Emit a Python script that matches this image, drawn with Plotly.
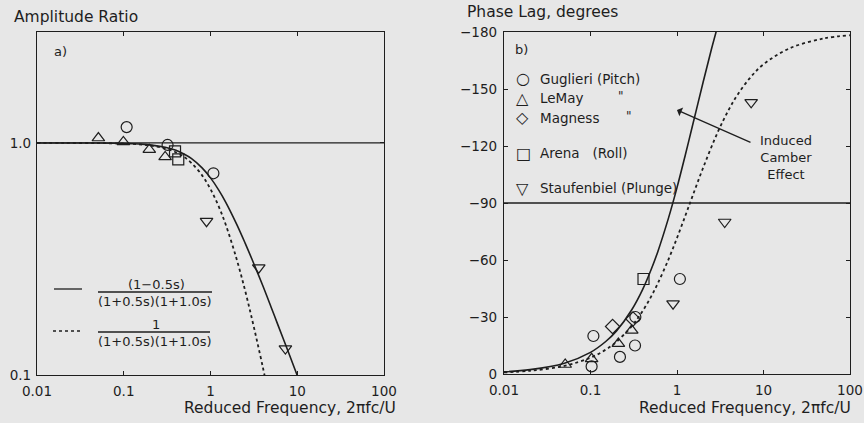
import plotly.graph_objects as go

W, H = 864, 423
FONT = "DejaVu Sans"
INK = "#1e1e1e"
BG = "#e7e7e7"

# ---------------- data ----------------
# model curves, amplitude panel
k_amp_solid = [0.01, 0.02, 0.05, 0.1, 0.15, 0.2, 0.3, 0.4, 0.5, 0.6, 0.8, 1.0,
               1.25, 1.5, 2.0, 2.5, 3.0, 4.0, 5.0, 6.0, 8.0, 10.0]
amp_solid = [1.0, 0.9998, 0.9988, 0.995, 0.989, 0.981, 0.958, 0.929, 0.894, 0.858,
             0.781, 0.707, 0.625, 0.555, 0.447, 0.371, 0.316, 0.243, 0.196, 0.164,
             0.124, 0.0995]
k_amp_dash = [0.01, 0.02, 0.05, 0.1, 0.15, 0.2, 0.3, 0.4, 0.5, 0.6, 0.8, 1.0,
              1.25, 1.5, 2.0, 2.5, 3.0, 3.5, 4.0, 4.3]
amp_dash = [1.0, 0.9998, 0.9984, 0.9938, 0.986, 0.976, 0.947, 0.911, 0.868, 0.821,
            0.725, 0.632, 0.530, 0.444, 0.316, 0.232, 0.175, 0.136, 0.1085, 0.0955]

# model curves, phase panel
k_ph_solid = [0.01, 0.02, 0.05, 0.1, 0.15, 0.2, 0.3, 0.4, 0.5, 0.6, 0.8, 1.0,
              1.25, 1.5, 2.0, 2.5, 3.0]
ph_solid = [-1.15, -2.3, -5.7, -11.4, -17.1, -22.7, -33.8, -44.4, -54.7, -64.4,
            -82.3, -98.1, -115.4, -130.1, -153.4, -170.9, -184.2]
k_ph_dash = [0.01, 0.02, 0.05, 0.1, 0.15, 0.2, 0.3, 0.4, 0.5, 0.6, 0.8, 1.0,
             1.25, 1.5, 2.0, 3.0, 4.0, 5.0, 7.0, 10.0, 20.0, 50.0, 100.0]
ph_dash = [-0.86, -1.7, -4.3, -8.6, -12.8, -17.0, -25.2, -33.1, -40.6, -47.7,
           -60.5, -71.6, -83.4, -93.2, -108.4, -127.9, -139.4, -146.9, -155.9,
           -163.0, -171.4, -176.6, -178.3]

# reference lines
ref_x = [0.01, 100]
amp_ref = [1.0, 1.0]
ph_ref = [-90, -90]

# measured points, amplitude panel
amp_gug_x = [0.108, 0.32, 1.08]
amp_gug_y = [1.17, 0.98, 0.74]
amp_lemay_x = [0.051, 0.099, 0.197, 0.30]
amp_lemay_y = [1.05, 1.01, 0.935, 0.87]
amp_arena_x = [0.39, 0.425]
amp_arena_y = [0.92, 0.85]
amp_stauf_x = [0.90, 3.6, 7.3]
amp_stauf_y = [0.46, 0.29, 0.13]

# measured points, phase panel
ph_gug_x = [0.108, 0.103, 0.219, 0.327, 0.33, 1.08]
ph_gug_y = [-20, -4, -9, -15, -30, -50]
ph_lemay_x = [0.051, 0.103, 0.21, 0.30]
ph_lemay_y = [-5, -8, -16, -23]
ph_mag_x = [0.18, 0.31]
ph_mag_y = [-25, -29]
ph_arena_x = [0.41]
ph_arena_y = [-50]
ph_stauf_x = [0.90, 3.56, 7.2]
ph_stauf_y = [-37, -80, -143]

amp_ticks = [0.1, 1.0]
amp_ticktext = ["0.1", "1.0"]
ph_ticks = [0, -30, -60, -90, -120, -150, -180]
ph_ticktext = ["0", "\u221230", "\u221260", "\u221290", "\u2212120", "\u2212150", "\u2212180"]
freq_ticks = [0.01, 0.1, 1, 10, 100]
freq_ticktext = ["0.01", "0.1", "1", "10", "100"]

legend_names = ["Guglieri (Pitch)", "LeMay", "Magness", "Arena\u00a0\u00a0 (Roll)",
                "Staufenbiel (Plunge)"]
legend_glyphs = ["\u25cb", "\u25b3", "\u25c7", "\u25a1", "\u25bd"]


# ---------------- helpers ----------------
def px(x):
    return x / W


def py(y):
    return 1 - y / H


fig = go.Figure()

line_solid = dict(color=INK, width=1.6)
line_dash = dict(color=INK, width=1.8, dash="3px,3px")


def markers(x, y, sym, xa, ya):
    fig.add_trace(go.Scatter(
        x=x, y=y, mode="markers", xaxis=xa, yaxis=ya,
        marker=dict(symbol=sym, size=11, color=INK,
                    line=dict(color=INK, width=1.2)),
        hoverinfo="skip"))


# left panel
fig.add_trace(go.Scatter(x=ref_x, y=amp_ref, mode="lines", line=dict(color=INK, width=1.3),
                         xaxis="x", yaxis="y"))
fig.add_trace(go.Scatter(x=k_amp_solid, y=amp_solid, mode="lines", line=line_solid,
                         line_shape="spline", xaxis="x", yaxis="y"))
fig.add_trace(go.Scatter(x=k_amp_dash, y=amp_dash, mode="lines", line=line_dash,
                         line_shape="spline", xaxis="x", yaxis="y"))
markers(amp_gug_x, amp_gug_y, "circle-open", "x", "y")
markers(amp_lemay_x, amp_lemay_y, "triangle-up-open", "x", "y")
markers(amp_arena_x, amp_arena_y, "square-open", "x", "y")
markers(amp_stauf_x, amp_stauf_y, "triangle-down-open", "x", "y")

# right panel
fig.add_trace(go.Scatter(x=ref_x, y=ph_ref, mode="lines", line=dict(color=INK, width=1.3),
                         xaxis="x2", yaxis="y2"))
fig.add_trace(go.Scatter(x=k_ph_solid, y=ph_solid, mode="lines", line=line_solid,
                         line_shape="spline", xaxis="x2", yaxis="y2"))
fig.add_trace(go.Scatter(x=k_ph_dash, y=ph_dash, mode="lines", line=line_dash,
                         line_shape="spline", xaxis="x2", yaxis="y2"))
markers(ph_gug_x, ph_gug_y, "circle-open", "x2", "y2")
markers(ph_lemay_x, ph_lemay_y, "triangle-up-open", "x2", "y2")
markers(ph_mag_x, ph_mag_y, "diamond-open", "x2", "y2")
markers(ph_arena_x, ph_arena_y, "square-open", "x2", "y2")
markers(ph_stauf_x, ph_stauf_y, "triangle-down-open", "x2", "y2")

axis_common = dict(showgrid=False, zeroline=False, showline=True, linecolor=INK,
                   linewidth=1.3, mirror="ticks", ticks="inside", ticklen=4,
                   tickcolor=INK, automargin=False,
                   tickfont=dict(family=FONT, size=13.5, color=INK))

fig.update_layout(
    width=W, height=H, margin=dict(l=0, r=0, t=0, b=0, pad=0, autoexpand=False),
    paper_bgcolor=BG, plot_bgcolor=BG, showlegend=False,
    xaxis=dict(type="log", range=[-2, 2], domain=[px(37), px(384)], anchor="y",
               tickvals=freq_ticks, ticktext=freq_ticktext, ticklabelstandoff=4,
               **axis_common),
    yaxis=dict(type="log", range=[-1, 0.478], domain=[py(375), py(32)], anchor="x",
               tickvals=amp_ticks, ticktext=amp_ticktext, ticklabelstandoff=2,
               **axis_common),
    xaxis2=dict(type="log", range=[-2, 2], domain=[px(504), px(850)], anchor="y2",
                tickvals=freq_ticks, ticktext=freq_ticktext, ticklabelstandoff=4,
                **axis_common),
    yaxis2=dict(range=[0, -180], domain=[py(374), py(32)], anchor="x2",
                tickvals=ph_ticks, ticktext=ph_ticktext, ticklabelstandoff=3,
                **axis_common),
)

ann = []


def text(x, y, s, size=13, anchor="left"):
    ann.append(dict(x=px(x), y=py(y), xref="paper", yref="paper", text=s,
                    showarrow=False, xanchor=anchor, yanchor="middle",
                    font=dict(family=FONT, size=size, color=INK)))


# titles
text(12, 17, "Amplitude Ratio", 15.5)
text(465, 12, "Phase Lag, degrees", 15.5)
text(398, 408, "Reduced Frequency, 2\u03c0fc/U", 15.5, "right")
text(853, 408, "Reduced Frequency, 2\u03c0fc/U", 15.5, "right")
text(52, 52, "a)", 13)
text(513, 50, "b)", 13)

# left legend (fractions)
text(156, 284, "(1\u22120.5s)", 13, "center")
text(155, 301, "(1+0.5s)(1+1.0s)", 13, "center")
text(156, 324, "1", 13, "center")
text(155, 341, "(1+0.5s)(1+1.0s)", 13, "center")

# right legend
leg_rows = [79, 98, 118, 153, 188]
for g, n, yy in zip(legend_glyphs, legend_names, leg_rows):
    text(514, yy, g, 16)
    text(538, yy, n, 13.5)
text(616, 96, "\"", 12)
text(624, 116, "\"", 12)

# induced camber annotation
ann.append(dict(x=px(786), y=py(157), xref="paper", yref="paper",
                text="Induced<br>Camber<br>Effect", showarrow=False,
                xanchor="center", yanchor="middle", align="center",
                font=dict(family=FONT, size=13, color=INK)))
ann.append(dict(x=px(677), y=py(110), xref="paper", yref="paper", text="",
                showarrow=True, arrowhead=1, arrowsize=1.2, arrowwidth=1.3,
                arrowcolor=INK, ax=75, ay=33))

fig.update_layout(annotations=ann)

shapes = []


def seg(x0, y0, x1, y1, dash="solid"):
    shapes.append(dict(type="line", xref="paper", yref="paper",
                       x0=px(x0), y0=py(y0), x1=px(x1), y1=py(y1),
                       line=dict(color=INK, width=1.3, dash=dash)))


seg(54, 289, 82, 289)
seg(53, 331, 82, 331, "3px,3px")
seg(98, 292, 212, 292)
seg(98, 332, 210, 332)
fig.update_layout(shapes=shapes)

fig.write_html("out.html")
